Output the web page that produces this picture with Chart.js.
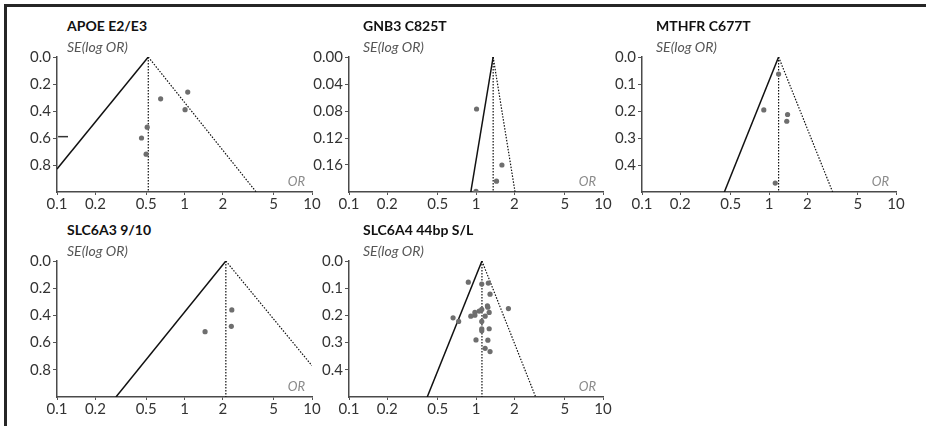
<!DOCTYPE html>
<html>
<head>
<meta charset="utf-8">
<script src="https://cdn.jsdelivr.net/npm/chart.js@4.4.1/dist/chart.umd.min.js"></script>
<style>
    body { margin: 0; background: #fff; font-family: Lato, 'Open Sans', sans-serif; }
    #page { position: relative; width: 926px; height: 426px; overflow: hidden; background: #fff; }
    #frame { position: absolute; left: 4px; top: 4px; width: 940px; height: 440px; border-top: 3px solid #262626; border-left: 3px solid #262626; }
    canvas { position: absolute; }
    .ttl { position: absolute; font-weight: bold; font-size: 14px; line-height: 17px; color: #111; white-space: nowrap; }
    .se { position: absolute; font-style: italic; font-size: 14px; line-height: 17px; color: #555; white-space: nowrap; }
    .or { position: absolute; font-style: italic; font-size: 13px; line-height: 16px; color: #8a8a8a; transform: translateX(-100%); }
</style>
</head>
<body>
<div id="page"><div id="frame"></div></div>
<script>
// shared axis ticks
const xTicks = [0.1, 0.2, 0.5, 1, 2, 5, 10];
const xTickLabels = ['0.1', '0.2', '0.5', '1', '2', '5', '10'];

// panel titles
const titles = ['APOE E2/E3', 'GNB3 C825T', 'MTHFR C677T', 'SLC6A3 9/10', 'SLC6A4 44bp S/L'];

// study points (OR, SE(log OR))
const apoeOR = [0.65, 1.06, 1.01, 0.51, 0.46, 0.50];
const apoeSE = [0.31, 0.26, 0.39, 0.52, 0.60, 0.72];
const gnb3OR = [1.01, 1.60, 1.45, 1.00];
const gnb3SE = [0.077, 0.160, 0.184, 0.199];
const mthfrOR = [1.19, 0.91, 1.40, 1.38, 1.12];
const mthfrSE = [0.063, 0.196, 0.213, 0.238, 0.467];
const slc6a3OR = [2.35, 2.33, 1.45];
const slc6a3SE = [0.36, 0.48, 0.52];
const slc6a4OR = [0.87, 1.11, 1.25, 1.29, 1.80, 1.23, 1.24, 1.11, 1.06, 1.27, 0.98, 0.98,
                  0.91, 1.18, 0.66, 0.73, 1.11, 1.11, 1.11, 1.27, 1.00, 1.24, 1.18, 1.29];
const slc6a4SE = [0.078, 0.085, 0.081, 0.122, 0.175, 0.165, 0.170, 0.178, 0.184, 0.189, 0.189, 0.199,
                  0.203, 0.203, 0.209, 0.222, 0.222, 0.249, 0.256, 0.249, 0.290, 0.291, 0.321, 0.333];

// funnel: pooled OR, lower/upper edge end points, SE range
const pooledOR = [0.52, 1.365, 1.19, 2.11, 1.114];
const lowEdgeOR = [0.1, 0.91, 0.445, 0.29, 0.413];
const lowEdgeSE = [0.83, 0.2, 0.5, 1.0, 0.5];
const highEdgeOR = [3.65, 2.03, 3.17, 10, 2.95];
const highEdgeSE = [1.0, 0.2, 0.5, 0.77, 0.5];
const seMax = [1.0, 0.2, 0.5, 1.0, 0.5];

// y ticks per panel
const yTicksA = [0, 0.2, 0.4, 0.6, 0.8];
const yTicksB = [0, 0.04, 0.08, 0.12, 0.16];
const yTicksC = [0, 0.1, 0.2, 0.3, 0.4];
const yTickDecimals = [1, 2, 1, 1, 1];

// stray dash on the APOE axis
const strayOR = [0.102, 0.122];
const straySE = [0.59, 0.59];

const studyOR = [apoeOR, gnb3OR, mthfrOR, slc6a3OR, slc6a4OR];
const studySE = [apoeSE, gnb3SE, mthfrSE, slc6a3SE, slc6a4SE];
const yTicks = [yTicksA, yTicksB, yTicksC, yTicksA, yTicksC];

// plot areas on the page
const boxes = [
    { l: 57, t: 57, r: 312, b: 192 },
    { l: 349, t: 57, r: 603, b: 192 },
    { l: 642, t: 57, r: 896, b: 192 },
    { l: 57, t: 261, r: 312, b: 397 },
    { l: 349, t: 261, r: 603, b: 397 }
];
const titleOffset = [10, 14, 14, 10, 14];

const Y_AXIS_W = 47, X_AXIS_H = 24, PAD_TOP = 12, PAD_RIGHT = 16;
const FONT = "Lato, 'Open Sans', sans-serif";
const page = document.getElementById('page');

function pairs(xs, ys) {
    return xs.map((x, i) => ({ x: x, y: ys[i] }));
}

function addText(cls, text, left, top) {
    const d = document.createElement('div');
    d.className = cls;
    d.textContent = text;
    d.style.left = left + 'px';
    d.style.top = top + 'px';
    page.appendChild(d);
}

function makePanel(i) {
    const box = boxes[i];
    const w = box.r - box.l + Y_AXIS_W + PAD_RIGHT;
    const h = box.b - box.t + PAD_TOP + X_AXIS_H;
    const canvas = document.createElement('canvas');
    canvas.width = w;
    canvas.height = h;
    canvas.style.width = w + 'px';
    canvas.style.height = h + 'px';
    canvas.style.left = (box.l - Y_AXIS_W) + 'px';
    canvas.style.top = (box.t - PAD_TOP) + 'px';
    page.appendChild(canvas);

    addText('ttl', titles[i], box.l + titleOffset[i], box.t - 40);
    addText('se', 'SE(log OR)', box.l + titleOffset[i], box.t - 19);
    addText('or', 'OR', box.r - 7, box.b - 19);

    const pooled = pooledOR[i];
    const datasets = [
        {
            label: 'studies',
            data: pairs(studyOR[i], studySE[i]),
            pointRadius: 2.6,
            pointBackgroundColor: '#6e6e6e',
            pointBorderWidth: 0,
            showLine: false
        },
        {
            label: 'pooled',
            data: [{ x: pooled, y: 0 }, { x: pooled, y: seMax[i] }],
            showLine: true,
            pointRadius: 0,
            borderColor: '#111',
            borderWidth: 1.2,
            borderDash: [1.5, 1.5]
        },
        {
            label: 'upper limit',
            data: [{ x: pooled, y: 0 }, { x: highEdgeOR[i], y: highEdgeSE[i] }],
            showLine: true,
            pointRadius: 0,
            borderColor: '#111',
            borderWidth: 1.2,
            borderDash: [1.5, 1.5]
        },
        {
            label: 'lower limit',
            data: [{ x: pooled, y: 0 }, { x: lowEdgeOR[i], y: lowEdgeSE[i] }],
            showLine: true,
            pointRadius: 0,
            borderColor: '#111',
            borderWidth: 1.5
        }
    ];
    if (i === 0) {
        datasets.push({
            label: 'mark',
            data: pairs(strayOR, straySE),
            showLine: true,
            pointRadius: 0,
            borderColor: '#333',
            borderWidth: 1.5
        });
    }

    new Chart(canvas.getContext('2d'), {
        type: 'scatter',
        data: { datasets: datasets },
        options: {
            responsive: false,
            animation: false,
            devicePixelRatio: 1,
            layout: { padding: { top: PAD_TOP, right: PAD_RIGHT, left: 0, bottom: 0 } },
            plugins: { legend: { display: false }, tooltip: { enabled: false } },
            scales: {
                x: {
                    type: 'logarithmic',
                    min: 0.1,
                    max: 10,
                    afterBuildTicks: function(scale) {
                        scale.ticks = xTicks.map(v => ({ value: v }));
                    },
                    afterFit: function(scale) { scale.height = X_AXIS_H; },
                    grid: { display: true, drawOnChartArea: false, drawTicks: true, tickLength: 3, color: '#555' },
                    border: { display: true, color: '#4a4a4a', width: 1.5 },
                    ticks: {
                        autoSkip: false,
                        maxRotation: 0,
                        padding: 0,
                        color: '#333',
                        font: { family: FONT, size: 15 },
                        callback: function(value, index) { return xTickLabels[index]; }
                    }
                },
                y: {
                    type: 'linear',
                    reverse: true,
                    min: 0,
                    max: seMax[i],
                    afterBuildTicks: function(scale) {
                        scale.ticks = yTicks[i].map(v => ({ value: v }));
                    },
                    afterFit: function(scale) { scale.width = Y_AXIS_W; },
                    grid: { display: true, drawOnChartArea: false, drawTicks: true, tickLength: 4, color: '#555' },
                    border: { display: true, color: '#4a4a4a', width: 1.5 },
                    ticks: {
                        padding: 2,
                        color: '#333',
                        font: { family: FONT, size: 15 },
                        callback: function(value) { return Number(value).toFixed(yTickDecimals[i]); }
                    }
                }
            }
        }
    });
}

document.addEventListener('DOMContentLoaded', function() {
    for (let i = 0; i < boxes.length; i++) {
        makePanel(i);
    }
});
</script>
</body>
</html>
